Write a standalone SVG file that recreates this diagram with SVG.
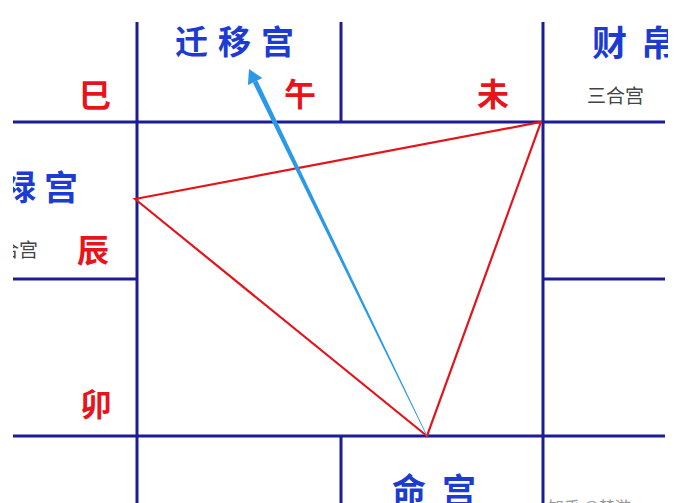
<svg xmlns="http://www.w3.org/2000/svg" width="678" height="503" viewBox="0 0 678 503">
<defs>
<style>
.grid{stroke:#1c1c96;stroke-width:3;fill:none;stroke-linecap:butt}
.tri{stroke:#e3151b;stroke-width:2.2;fill:none;stroke-linejoin:miter}
.arrow{fill:#2a9ae6}
.blue{font-family:"Noto Sans CJK SC","Noto Sans",sans-serif;font-weight:700;fill:#1b3bd2}
.red{font-family:"Noto Sans CJK SC","Noto Sans",sans-serif;font-weight:700;fill:#e8141c;font-size:32px;text-anchor:middle}
.gray{font-family:"Noto Sans CJK SC","Noto Sans",sans-serif;font-weight:400;fill:#444444;font-size:19px}
.wm{font-family:"Noto Sans CJK SC","Noto Sans",sans-serif;fill:#9a9a9a;font-size:16px}
</style>
<clipPath id="area"><rect x="13" y="0" width="655" height="503"/></clipPath>
</defs>
<rect width="678" height="503" fill="#ffffff"/>
<g id="grid" class="grid">
<line x1="13" y1="122" x2="665" y2="122"/>
<line x1="13" y1="436" x2="665" y2="436"/>
<line x1="13" y1="279" x2="137" y2="279"/>
<line x1="543" y1="279" x2="665" y2="279"/>
<line x1="137" y1="22" x2="137" y2="503"/>
<line x1="543" y1="22" x2="543" y2="503"/>
<line x1="341" y1="22" x2="341" y2="122"/>
<line x1="341" y1="436" x2="341" y2="503"/>
</g>
<g id="labels" clip-path="url(#area)">
<g id="qianyi"><text class="blue" x="175" y="54" font-size="33" letter-spacing="10">迁移宫</text></g>
<g id="caibo"><text class="blue" x="592" y="56" font-size="35" letter-spacing="14">财帛</text><text class="gray" x="587" y="103">三合宫</text></g>
<g id="guanlu"><text class="blue" x="2" y="200" font-size="34" letter-spacing="8">禄宫</text><text class="gray" x="-19" y="257">三合宫</text></g>
<g id="ming"><text class="blue" x="392" y="503" font-size="34" letter-spacing="16">命宫</text></g>
<g id="branches">
<text class="red" x="95" y="107">巳</text>
<text class="red" x="300" y="106">午</text>
<text class="red" x="493" y="106">未</text>
<text class="red" x="93" y="262">辰</text>
<text class="red" x="96" y="416">卯</text>
</g>
<text class="wm" x="548" y="513">知乎 @楚游</text>
</g>
<g id="connectors">
<polygon class="tri" points="135,199 541,122 427,436"/>
<polygon class="arrow" points="427.4,436 426.6,436 252.85,82.7 257.35,80.5"/>
<polygon class="arrow" points="249,69 262.3,78.1 247.9,85.1"/>
</g>
</svg>
